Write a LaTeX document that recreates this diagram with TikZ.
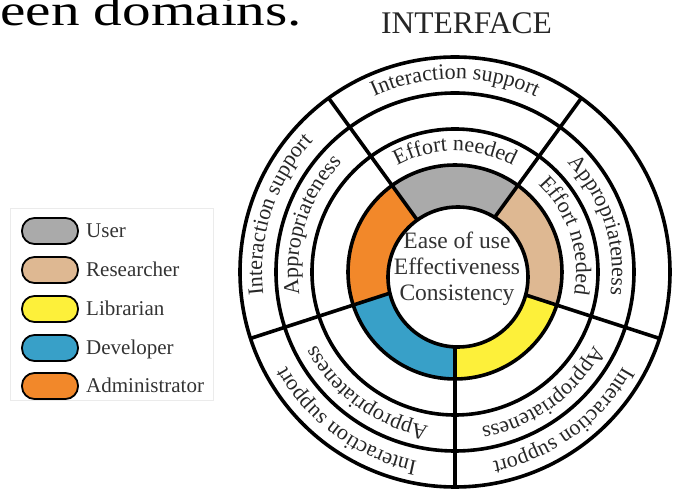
\documentclass[tikz,border=0pt]{standalone}
\usepackage{fontspec}
\setmainfont{Liberation Serif}
\usetikzlibrary{decorations.text}
\definecolor{cuser}{HTML}{AAAAAA}
\definecolor{cres}{HTML}{DEB892}
\definecolor{clib}{HTML}{FDF03A}
\definecolor{cdev}{HTML}{38A0C8}
\definecolor{cadm}{HTML}{F2882A}
\begin{document}
\begin{tikzpicture}[x=1pt,y=1pt,
  ring/.style={line width=3.6pt},
  pill/.style={draw, line width=1.8pt, rounded corners=12.5pt, minimum width=56pt, minimum height=26pt, inner sep=0pt},
  legtext/.style={anchor=base west, font=\fontsize{21}{24}\selectfont, text=black!80, inner sep=0pt},
  ringlabel/.style={decoration={text along path, text align=center, text color=black!85, text={|\fontsize{22}{24}\selectfont|#1}}, decorate},
]
\useasboundingbox (-455pt,-222pt) rectangle (220pt,272pt);

% caption fragment and title
\node[anchor=base west, inner sep=0pt, font=\fontsize{44}{48}\selectfont, xscale=1.3] (cap) at (-455pt,246pt) {een domains.};
\node[anchor=base, inner sep=0pt, font=\fontsize{31.5}{34}\selectfont, text=black!85] (title) at (11.5pt,238pt) {INTERFACE};

% coloured sectors
\foreach \a/\c in {54/cuser,126/cadm,198/cdev,270/clib,342/cres}
  \fill[\c] (0pt,0pt) -- (\a:107pt) arc[start angle=\a, delta angle=72, radius=107pt] -- cycle;

% radial dividers
\foreach \a in {54,126,198,270,342}
  \draw[ring] (\a:40pt) -- (\a:215pt);

% inner circle
\draw[ring, fill=white] (3pt,-5pt) circle[radius=70pt];

% rings
\foreach \r in {107,143,179,215}
  \draw[ring] (0pt,0pt) circle[radius=\r pt];

% centre text
\node[align=center, font=\fontsize{23.5}{26}\selectfont, text=black!80, inner sep=0pt] (centre) at (2pt,3pt) {Ease of use\\Effectiveness\\Consistency};

% ring labels
\path[ringlabel=Effort needed] (126:121pt) arc[start angle=126, end angle=54, radius=121pt];
\path[ringlabel=Interaction support] (126:193pt) arc[start angle=126, end angle=54, radius=193pt];

\path[ringlabel=Appropriateness] (198:157pt) arc[start angle=198, end angle=126, radius=157pt];
\path[ringlabel=Interaction support] (198:193pt) arc[start angle=198, end angle=126, radius=193pt];

\path[ringlabel=Appropriateness] (270:157pt) arc[start angle=270, end angle=198, radius=157pt];
\path[ringlabel=Interaction support] (270:193pt) arc[start angle=270, end angle=198, radius=193pt];

\path[ringlabel=Appropriateness] (342:157pt) arc[start angle=342, end angle=270, radius=157pt];
\path[ringlabel=Interaction support] (342:193pt) arc[start angle=342, end angle=270, radius=193pt];

\path[ringlabel=Effort needed] (54:121pt) arc[start angle=54, end angle=-18, radius=121pt];
\path[ringlabel=Appropriateness] (54:157pt) arc[start angle=54, end angle=-18, radius=157pt];

% legend
\draw[black!8, line width=0.8pt] (-445pt,-128pt) rectangle (-242pt,64pt);
\foreach \n/\c/\t/\y in {lu/cuser/User/41, lr/cres/Researcher/2, ll/clib/Librarian/-37, ld/cdev/Developer/-76, la/cadm/Administrator/-114}{
  \node[pill, fill=\c] (p\n) at (-405pt,\y pt) {};
  \node[legtext] (t\n) at (-369pt,\y pt - 6.5pt) {\t};
}
\end{tikzpicture}
\end{document}
